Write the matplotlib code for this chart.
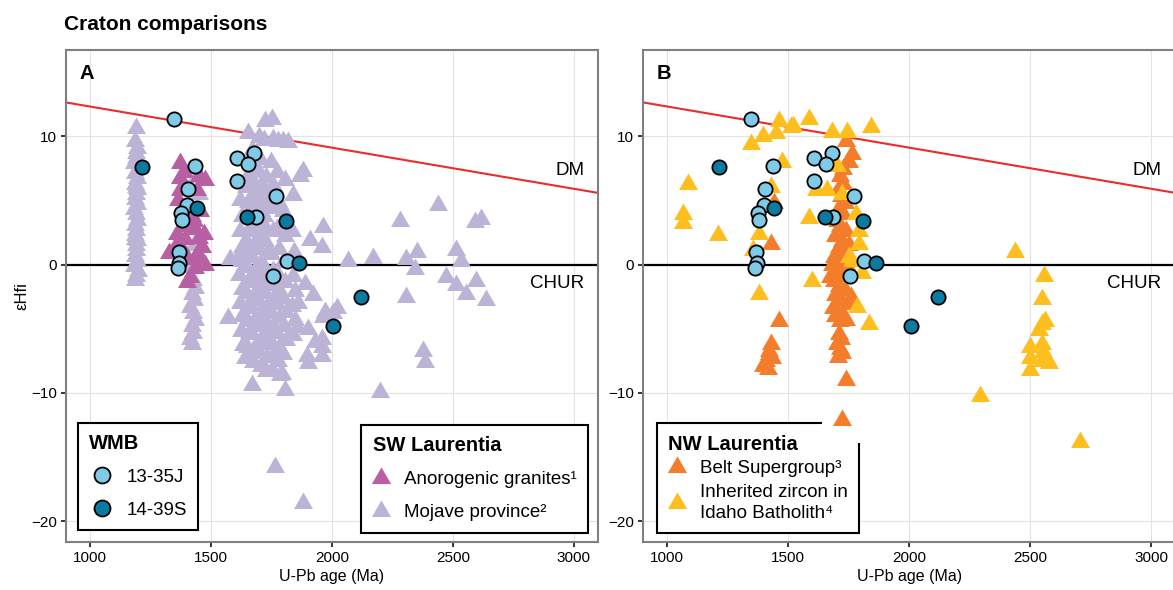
import matplotlib
matplotlib.use("Agg")
import matplotlib.pyplot as plt
from matplotlib.lines import Line2D
from matplotlib.patches import Rectangle

plt.rcParams['font.family'] = ['Liberation Sans', 'DejaVu Sans']

# -------------------------------
# Data
# -------------------------------
# WMB samples, shown in both panels
j_age = [1346, 1436, 1607, 1679, 1655, 1606, 1406, 1401, 1376, 1381, 1770, 1687,
         1368, 1370, 1363, 1756, 1814]
j_ehf = [11.3, 7.7, 8.3, 8.7, 7.8, 6.5, 5.9, 4.6, 4.0, 3.5, 5.3, 3.7,
         1.0, 0.1, -0.3, -0.9, 0.3]

s_age = [1216, 1442, 1651, 1811, 1864, 2120, 2006]
s_ehf = [7.6, 4.4, 3.7, 3.4, 0.1, -2.5, -4.8]

# SW Laurentia
anor_age = [1374, 1374, 1366, 1374, 1477, 1449, 1443, 1360, 1360, 1326, 1470, 1463,
            1477, 1443, 1415, 1401, 1436, 1408, 1429, 1381, 1449, 1390, 1420, 1455,
            1385, 1400, 1435, 1395, 1465]
anor_ehf = [7.9, 6.7, 5.0, 5.8, 6.6, 6.9, 5.8, 2.4, 1.6, 0.9, 2.4, 0.3,
            0.0, 0.8, -1.0, -1.4, 2.8, 4.5, 3.4, 1.2, 2.1, 7.2, 3.8, 4.2,
            3.0, 0.4, -0.3, 2.0, 1.4]

mojave_age = [
    # ~1190 column
    1190, 1186, 1194, 1189, 1192, 1184, 1197, 1188, 1193, 1185, 1196, 1190, 1187,
    1194, 1183, 1191, 1196, 1188, 1192, 1185, 1195, 1189, 1191, 1186, 1193, 1184,
    1197, 1190, 1188, 1192, 1187,
    # ~1430 column
    1440, 1452, 1425, 1432, 1418, 1428, 1436, 1420, 1430, 1415, 1425, 1433, 1420,
    1428, 1415, 1424,
    # main 1600-1900 group
    1622, 1628, 1620, 1630, 1624, 1618, 1628, 1622, 1630, 1625, 1632, 1580, 1572,
    1614, 1640,
    1654, 1648, 1652, 1645, 1655, 1648, 1656, 1646, 1654, 1650, 1658, 1646, 1654,
    1648, 1656, 1650, 1662, 1670,
    1672, 1678, 1670, 1680, 1674, 1682, 1670, 1678, 1672, 1682, 1674, 1680, 1670,
    1678, 1672, 1682, 1676,
    1700, 1705, 1698, 1708, 1700, 1706, 1696, 1704, 1698, 1708, 1700, 1706, 1696,
    1704, 1700, 1708, 1698, 1706,
    1724, 1720, 1728, 1722, 1730, 1720, 1728, 1724, 1732, 1720, 1728, 1724, 1732,
    1720, 1728, 1724, 1732, 1726,
    1752, 1756, 1748, 1755, 1750, 1758, 1748, 1756, 1750, 1758, 1748, 1756, 1750,
    1758, 1752, 1765,
    1777, 1772, 1780, 1774, 1782, 1776, 1782, 1772, 1780, 1774, 1782, 1776, 1784,
    1793,
    1800, 1820, 1805, 1798, 1808, 1800, 1808, 1800, 1810, 1802, 1810, 1800, 1806,
    1841, 1836, 1845, 1838, 1846, 1836, 1846, 1840, 1855, 1862,
    1882, 1868, 1880, 1896, 1903, 1910, 1890, 1923, 1963, 1971, 1958, 1958, 1965,
    1958, 1958, 2006, 2020, 1900, 1930,
    # older scattered grains
    2068, 2171, 2281, 2308, 2350, 2343, 2439, 2308, 2514, 2535, 2473, 2514, 2556,
    2597, 2590, 2617, 2638, 2377, 2384, 2198,
]
mojave_ehf = [
    10.6, 9.6, 9.1, 8.7, 8.3, 7.9, 7.5, 7.1, 6.7, 6.3, 5.9, 5.5, 5.1,
    4.7, 4.3, 3.9, 3.5, 3.1, 2.7, 2.3, 1.9, 1.5, 1.1, 0.7, 0.3, -0.1,
    -0.5, -0.9, -1.2, 6.0, 2.0,
    6.8, 5.5, 3.0, 1.5, -0.2, -1.2, -1.8, -2.3, -2.8, -3.3, -3.8, -4.3, -4.8,
    -5.3, -5.8, -6.2,
    5.0, 3.8, 2.6, 1.4, 0.3, -0.8, -1.9, -3.0, -4.0, -5.2, -6.3, 0.4, -4.2,
    0.6, -7.3,
    10.2, 8.1, 7.0, 6.0, 4.9, 3.9, 2.8, 1.8, 0.8, -0.2, -1.2, -2.2, -3.3,
    -4.3, -5.3, -6.4, -6.9, -9.4,
    8.9, 7.6, 6.6, 5.6, 4.6, 3.6, 2.6, 1.6, 0.6, -0.4, -1.4, -2.4, -3.4,
    -4.4, -5.4, -6.4, -7.6,
    9.9, 8.2, 7.2, 6.2, 5.2, 4.2, 3.2, 2.2, 1.2, 0.2, -0.8, -1.8, -2.8,
    -3.8, -4.8, -5.8, -6.8, -7.9,
    11.2, 9.7, 6.8, 5.8, 4.8, 3.8, 2.8, 1.8, 0.8, -0.2, -1.2, -2.2, -3.2,
    -4.2, -5.2, -6.2, -7.2, -8.3,
    11.3, 9.8, 8.0, 6.2, 4.4, 2.6, 0.8, -0.5, -1.6, -2.7, -3.8, -4.9, -6.0,
    -7.1, -8.2, -15.8,
    9.6, 7.2, 4.8, 2.8, 1.2, -0.8, -2.0, -3.1, -4.2, -5.3, -6.4, -7.5, -8.6,
    -8.5,
    9.6, 9.5, 6.6, 4.2, 2.2, 0.2, -1.4, -2.6, -3.7, -4.8, -5.9, -7.0, -9.8,
    5.4, 2.6, 1.0, -0.9, -2.1, -3.2, -4.3, -5.5, -4.9, -3.0,
    7.3, 6.9, -18.6, -7.1, -7.7, 1.9, -1.5, -2.4, -4.1, -3.7, -5.8, -7.1, 2.9,
    1.35, -6.4, -3.8, -3.4, -5.0, -6.0,
    0.3, 0.5, 3.4, 0.45, 0.96, -0.34, 4.6, -2.5, 1.1, 0.3, -1.0, -1.6, -2.3,
    -1.25, 3.3, 3.55, -2.8, -6.7, -7.6, -9.9,
]

# NW Laurentia
belt_age = [1738, 1765, 1752, 1725, 1712, 1728, 1705, 1720, 1735, 1710, 1726, 1700,
            1716, 1740, 1695, 1722, 1708, 1732, 1690, 1714, 1745, 1700, 1724, 1688,
            1710, 1735, 1695, 1718, 1748, 1685, 1705, 1728, 1712, 1740, 1695, 1760,
            1672, 1752, 1680,
            1708, 1718, 1700, 1712, 1722, 1706, 1738,
            1440, 1430, 1463, 1422, 1408, 1415, 1394, 1435, 1429, 1420]
belt_ehf = [9.6, 8.6, 8.0, 7.4, 6.9, 6.3, 5.8, 5.3, 4.8, 4.4, 3.9, 3.4,
            3.0, 2.6, 2.2, 1.8, 1.4, 1.0, 0.6, 0.2, -0.1, -0.5, -0.9, -1.3,
            -1.7, -2.0, -2.4, -2.8, -3.1, -3.4, -3.8, -4.1, -4.4, -4.3, -4.0, -2.5,
            -1.0, 1.5, 0.0,
            -5.4, -5.8, -6.2, -6.6, -6.9, -7.2, -9.0,
            4.8, 1.6, -4.4, -6.7, -7.5, -8.1, -7.9, -7.3, -6.2, -7.0]
# the lowest Belt grain, drawn over the legend corner
belt_low_age = [1724]
belt_low_ehf = [-12.1]

idaho_age = [1587, 1463, 1511, 1449, 1394, 1346, 1683, 1744, 1843, 1476, 1703, 1085,
             1064, 1064, 1211, 1587, 1614, 1662, 1600, 1380, 1380, 1353, 1429, 1793,
             1793, 1765, 1806, 1786, 1834, 1724, 1779, 1518, 1751,
             2439, 2558, 2548, 2548, 2560, 2535, 2500, 2548, 2555, 2500, 2500, 2576,
             2548, 2294, 2706]
idaho_ehf = [11.3, 11.2, 10.7, 10.2, 10.0, 9.4, 10.3, 10.3, 10.7, 8.0, 7.7, 6.3,
             3.9, 3.2, 2.3, 3.6, 5.8, 5.8, -1.25, -2.3, 2.4, 1.1, 6.0, 2.6,
             1.6, 0.3, -0.7, -3.3, -4.6, 5.5, 3.9, 10.8, 0.6,
             1.0, -0.9, -2.7, -4.6, -4.4, -5.1, -6.4, -6.2, -6.8, -7.3, -8.2, -7.7,
             -7.5, -10.2, -13.8]

# reference lines
dm_age = [0, 4560]
dm_ehf = [15.5, 0.9]

# -------------------------------
# Style
# -------------------------------
C_J = '#7FCBE7'
C_S = '#0B7AA0'
C_ANOR = '#B95FA3'
C_MOJ = '#BDB3D6'
C_BELT = '#F47D2B'
C_IDAHO = '#FDBE1E'
TRI = (3, 0, 0)
TRI_S = 250
CIR_S = 105

fig = plt.figure(figsize=(11.73, 5.90), dpi=100)
axA = fig.add_axes([0.056, 0.0814, 0.4538, 0.8339])
axB = fig.add_axes([0.5482, 0.0814, 0.4538, 0.8339])


def base(ax, letter):
    ax.set_xlim(900, 3100)
    ax.set_ylim(-21.6, 16.7)
    ax.set_xticks([1000, 1500, 2000, 2500, 3000])
    ax.set_yticks([-20, -10, 0, 10])
    ax.grid(color='#E3E3E3', lw=0.8)
    ax.set_axisbelow(True)
    for sp in ax.spines.values():
        sp.set_color('#808080')
        sp.set_linewidth(1.5)
    ax.tick_params(direction='out', length=3.4, width=1.1, color='black',
                   labelsize=11, pad=3)
    ax.axhline(0, color='black', lw=1.6, zorder=1.5)
    ax.plot(dm_age, dm_ehf, color='#EE2A2A', lw=1.5, zorder=1.6)
    ax.text(3043, 7.3, 'DM', ha='right', va='center', fontsize=13.5)
    ax.text(3043, -1.45, 'CHUR', ha='right', va='center', fontsize=13.5)
    ax.text(0.0256, 0.953, letter, transform=ax.transAxes, fontweight='bold',
            fontsize=14.5, ha='left', va='center')
    ax.set_xlabel('U-Pb age (Ma)', fontsize=11.5, labelpad=3)


def wmb(ax):
    ax.scatter(j_age, j_ehf, s=CIR_S, marker='o', c=C_J, edgecolors='black',
               linewidths=1.3, zorder=4)
    ax.scatter(s_age, s_ehf, s=CIR_S, marker='o', c=C_S, edgecolors='black',
               linewidths=1.3, zorder=4)


def make_legend(ax, handles, labels, title, loc, anchor, hl, htp, ls=0.85):
    leg = ax.legend(handles=handles, labels=labels, title=title, loc=loc,
                    bbox_to_anchor=anchor, borderaxespad=0, frameon=True,
                    fancybox=False, edgecolor='black', framealpha=1,
                    fontsize=13.5, title_fontproperties={'weight': 'bold', 'size': 14.5},
                    alignment='left', labelspacing=ls, handlelength=hl,
                    handletextpad=htp, borderpad=0.6)
    leg.get_frame().set_linewidth(1.5)
    leg.set_zorder(5)
    return leg


def tri_handle(color):
    return Line2D([], [], ls='', marker=TRI, ms=16, mfc=color, mec=color, mew=0)


# -------------------------------
# Panel A
# -------------------------------
base(axA, 'A')
axA.scatter(mojave_age, mojave_ehf, s=TRI_S, marker=TRI, c=C_MOJ, linewidths=0, zorder=2)
axA.scatter(anor_age, anor_ehf, s=TRI_S, marker=TRI, c=C_ANOR, linewidths=0, zorder=2.1)
wmb(axA)
axA.set_ylabel('εHfi', fontsize=12)
axA.yaxis.set_label_coords(-0.068, 0.5)

h_j = Line2D([], [], ls='', marker='o', ms=11.5, mfc=C_J, mec='black', mew=1.3)
h_s = Line2D([], [], ls='', marker='o', ms=11.5, mfc=C_S, mec='black', mew=1.3)
leg1 = make_legend(axA, [h_j, h_s], ['13-35J', '14-39S'], 'WMB',
                   'lower left', (0.0225, 0.024), 1.4, 0.6)
axA.add_artist(leg1)
make_legend(axA, [tri_handle(C_ANOR), tri_handle(C_MOJ)],
            ['Anorogenic granites¹', 'Mojave province²'], 'SW Laurentia',
            'lower right', (0.982, 0.019), 0.9, 0.8)

# -------------------------------
# Panel B
# -------------------------------
base(axB, 'B')
axB.scatter(belt_age, belt_ehf, s=TRI_S, marker=TRI, c=C_BELT, linewidths=0, zorder=2)
axB.scatter(idaho_age, idaho_ehf, s=TRI_S, marker=TRI, c=C_IDAHO, linewidths=0, zorder=2.1)
wmb(axB)
legB = make_legend(axB, [tri_handle(C_BELT), tri_handle(C_IDAHO)],
                   ['Belt Supergroup³', 'Inherited zircon in\nIdaho Batholith⁴'],
                   'NW Laurentia', 'lower left', (0.026, 0.018), 0.9, 0.8, ls=0.35)
legB.get_texts()[1].set_linespacing(1.3)
axB.add_patch(Rectangle((0.336, 0.201), 0.085, 0.056, transform=axB.transAxes,
                        facecolor='white', edgecolor='none', zorder=5.5))
axB.scatter(belt_low_age, belt_low_ehf, s=TRI_S, marker=TRI, c=C_BELT,
            linewidths=0, zorder=6)

fig.text(64 / 1173, 0.949, 'Craton comparisons', fontweight='bold', fontsize=15,
         ha='left', va='baseline')

fig.savefig('out.png', dpi=100)
